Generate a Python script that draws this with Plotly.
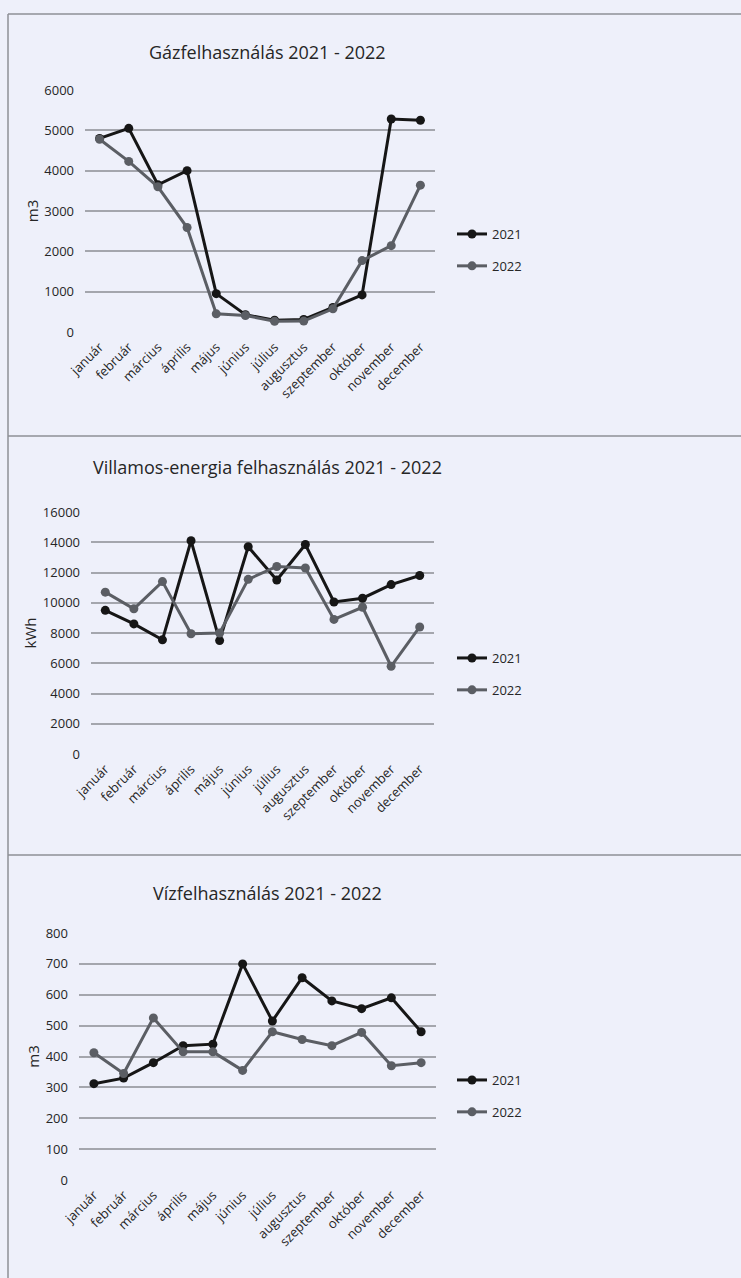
import plotly.graph_objects as go

months = ["január", "február", "március", "április", "május", "június",
          "július", "augusztus", "szeptember", "október", "november", "december"]
series_names = ["2021", "2022"]

gas_2021 = [4800, 5050, 3650, 4000, 950, 430, 290, 310, 610, 920, 5280, 5250]
gas_2022 = [4780, 4230, 3600, 2590, 450, 410, 265, 270, 575, 1770, 2140, 3640]

elec_2021 = [9500, 8600, 7550, 14100, 7500, 13700, 11500, 13850, 10050, 10300, 11200, 11800]
elec_2022 = [10700, 9600, 11400, 7950, 8000, 11550, 12400, 12300, 8900, 9700, 5800, 8400]

water_2021 = [312, 330, 380, 435, 440, 700, 515, 655, 580, 555, 590, 480]
water_2022 = [412, 345, 525, 415, 415, 355, 480, 455, 435, 478, 370, 380]

titles = ["Gázfelhasználás 2021 - 2022",
          "Villamos-energia felhasználás 2021 - 2022",
          "Vízfelhasználás 2021 - 2022"]
units = ["m3", "kWh", "m3"]
y_ranges = [[0, 6000], [0, 16000], [0, 800]]
y_dticks = [1000, 2000, 100]

W, H = 741, 1278
FONT = "Open Sans, sans-serif"
BG = "#eef0fa"
C2021 = "#161616"
C2022 = "#5b5e64"
GRID = "#a4a6ad"
TXT = "#262626"

def px_x(x):
    return x / W

def px_y(y):
    return 1 - y / H

# plot areas in pixel coordinates (left, right, top, bottom)
areas = [(85, 435, 90, 332), (91, 434, 512, 754), (79, 436, 933, 1180)]
legend_y = [250, 674, 1096]
title_y = [52, 467, 893]
data = [(gas_2021, gas_2022), (elec_2021, elec_2022), (water_2021, water_2022)]

fig = go.Figure()
layout = dict(
    width=W, height=H,
    margin=dict(l=0, r=0, t=0, b=0, autoexpand=False),
    paper_bgcolor=BG, plot_bgcolor=BG,
    font=dict(family=FONT, color=TXT, size=12),
    showlegend=True,
)
annotations = []
shapes = []

for i in range(3):
    ax = "" if i == 0 else str(i + 1)
    l, r, t, b = areas[i]
    s21, s22 = data[i]
    leg = "legend" if i == 0 else f"legend{i+1}"
    for name, vals, col, grp in [(series_names[0], s21, C2021, "a"), (series_names[1], s22, C2022, "b")]:
        fig.add_trace(go.Scatter(
            x=months, y=vals, name=name, mode="lines+markers",
            line=dict(color=col, width=3),
            marker=dict(symbol="circle", size=9, color=col),
            xaxis="x" + ax, yaxis="y" + ax, legend=leg, legendgroup=grp + str(i),
        ))
    layout["xaxis" + ax] = dict(
        domain=[px_x(l), px_x(r)], anchor="y" + ax, automargin=False,
        type="category", range=[-0.5, 11.5],
        tickangle=-45, showgrid=False, zeroline=False, showline=False,
        ticks="", ticklabelstandoff=4, tickfont=dict(size=13, color=TXT, family=FONT),
    )
    layout["yaxis" + ax] = dict(
        domain=[px_y(b), px_y(t)], anchor="x" + ax, automargin=False,
        range=y_ranges[i], dtick=y_dticks[i], tick0=0, tickformat="d",
        showgrid=True, gridcolor=GRID, gridwidth=1.5,
        zeroline=False, showline=False, ticks="", ticklabelstandoff=10,
        tickfont=dict(size=13, color=TXT, family=FONT),
        title=dict(text=units[i], font=dict(size=15, color=TXT, family=FONT), standoff=2),
    )
    layout[leg] = dict(
        x=px_x(452), y=px_y(legend_y[i]), xanchor="left", yanchor="middle",
        bgcolor="rgba(0,0,0,0)", font=dict(size=13, family=FONT, color=TXT),
        traceorder="grouped", tracegroupgap=12, itemwidth=30,
    )
    annotations.append(dict(
        text=titles[i], x=px_x(267), y=px_y(title_y[i]), xref="paper", yref="paper",
        xanchor="center", yanchor="middle", showarrow=False,
        font=dict(size=18, family=FONT, color=TXT),
    ))

# panel borders
for yb in [14, 436, 855]:
    shapes.append(dict(type="line", xref="paper", yref="paper",
                       x0=px_x(8), x1=px_x(760), y0=px_y(yb), y1=px_y(yb),
                       line=dict(color="#8e9096", width=1.5)))
shapes.append(dict(type="line", xref="paper", yref="paper",
                   x0=px_x(8), x1=px_x(8), y0=px_y(14), y1=px_y(1290),
                   line=dict(color="#8e9096", width=1.5)))

layout["annotations"] = annotations
layout["shapes"] = shapes
fig.update_layout(**layout)
fig.write_html(
    "out.html",
    config={"displayModeBar": False},
    post_script="document.body.style.margin='0';document.body.style.overflow='hidden';"
                "document.body.style.background='" + BG + "';",
)
